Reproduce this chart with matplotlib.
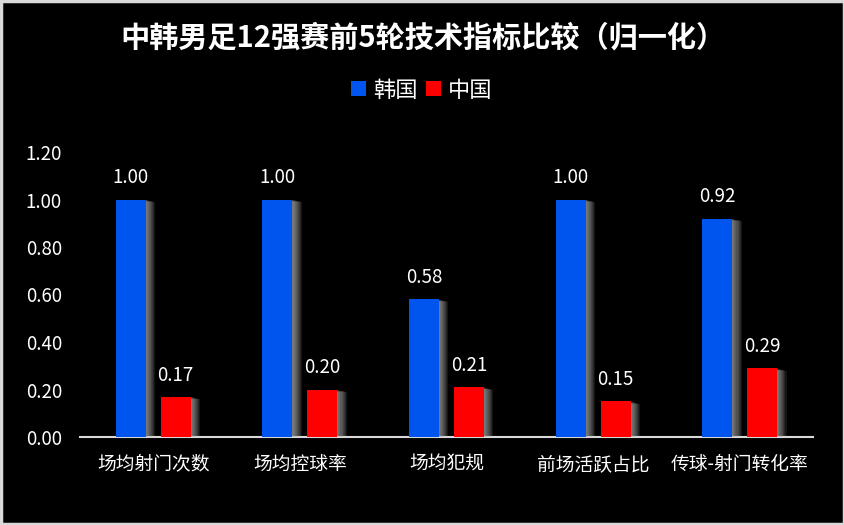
import matplotlib
matplotlib.use("Agg")
import matplotlib.pyplot as plt
import matplotlib.patheffects as pe
import numpy as np

plt.rcParams['font.family'] = ['Noto Sans CJK SC', 'DejaVu Sans']

categories = ['场均射门次数', '场均控球率', '场均犯规', '前场活跃占比', '传球-射门转化率']
korea = [1.00, 1.00, 0.58, 1.00, 0.92]
china = [0.17, 0.20, 0.21, 0.15, 0.29]
series_names = ['韩国', '中国']
yticks = [0.0, 0.2, 0.4, 0.6, 0.8, 1.0, 1.2]

blue = '#0055EE'
red = '#FF0000'

fig = plt.figure(figsize=(8.45, 5.25), dpi=100, facecolor='black')
ax = fig.add_axes([80/845, (525-437)/525, (813-80)/845, (437-152)/525])
ax.set_facecolor('black')

x = np.arange(len(categories))
w = 0.205
off = 0.153
shadow = [pe.SimplePatchShadow(offset=(k * 0.75, -k * 0.2), shadow_rgbFace='#bbbbbb', alpha=0.11)
          for k in range(1, 10)] + [pe.Normal()]
b1 = ax.bar(x - off, korea, w, color=blue, label=series_names[0], path_effects=shadow, zorder=3)
b2 = ax.bar(x + off, china, w, color=red, label=series_names[1], path_effects=shadow, zorder=3)

for bars, vals in ((b1, korea), (b2, china)):
    for r, v in zip(bars, vals):
        ax.annotate(f'{v:.2f}', (r.get_x() + r.get_width()/2, v), xytext=(0, 8),
                    textcoords='offset points', ha='center', va='bottom',
                    color='white', fontsize=13.5)

ax.set_xlim(-0.5, len(categories) - 0.5)
ax.set_ylim(0, 1.2)
ax.set_yticks(yticks)
ax.set_yticklabels([f'{t:.2f}' for t in yticks], color='white', fontsize=13.5)
ax.set_xticks(x)
ax.set_xticklabels(categories, color='white', fontsize=13.5)
ax.tick_params(axis='both', length=0)
ax.tick_params(axis='y', pad=13)
ax.tick_params(axis='x', pad=12)
for s in ['top', 'right', 'left']:
    ax.spines[s].set_visible(False)
ax.spines['bottom'].set_color('#d9d9d9')
ax.spines['bottom'].set_linewidth(1.5)

fig.text(0.5, 1 - 38/525, '中韩男足12强赛前5轮技术指标比较（归一化）', ha='center', va='center',
         color='white', fontsize=21, fontweight='bold')

leg = fig.legend(handles=[b1, b2], labels=series_names, loc='center', bbox_to_anchor=(0.499, 1 - 90/525),
                 ncol=2, frameon=False, fontsize=16, labelcolor='white',
                 handlelength=0.68, handleheight=0.68, handletextpad=0.3, columnspacing=0.4)
for h in leg.legend_handles:
    h.set_path_effects([])

border = plt.Rectangle((0.001, 0.001), 0.998, 0.998, transform=fig.transFigure, fill=False,
                       edgecolor='#d9d9d9', linewidth=2.5)
fig.patches.append(border)

fig.savefig('out.png', dpi=100, facecolor='black')
